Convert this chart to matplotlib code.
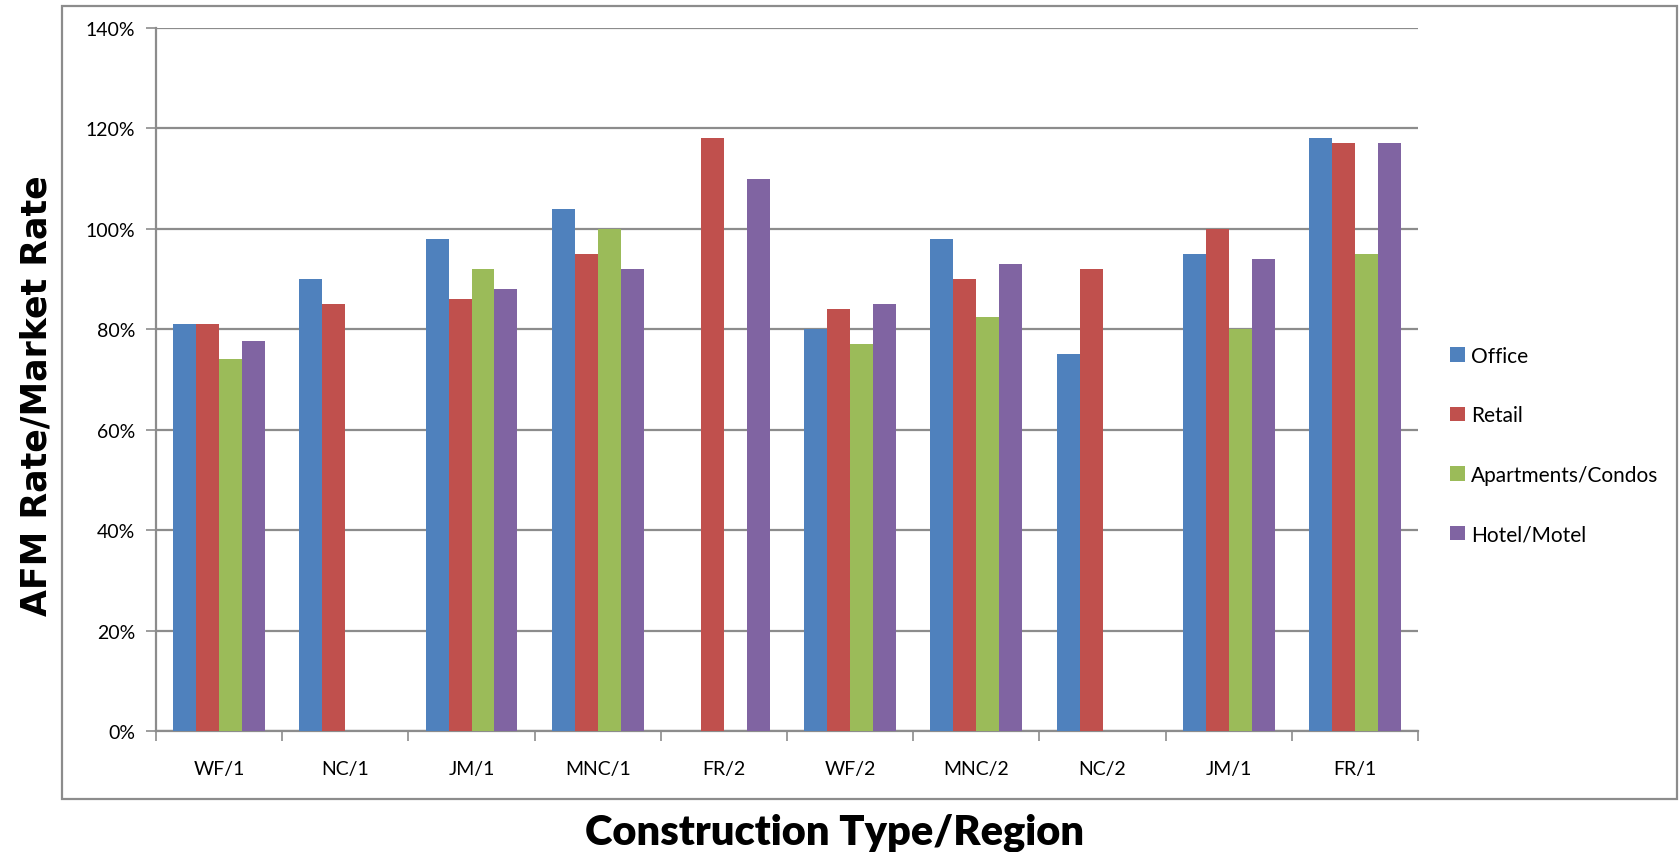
import numpy as np
import matplotlib
matplotlib.use("Agg")
import matplotlib.pyplot as plt
from matplotlib.patches import Rectangle
from matplotlib.ticker import PercentFormatter

nan = np.nan

# categories and series values (percent)
regions = ["WF/1", "NC/1", "JM/1", "MNC/1", "FR/2", "WF/2", "MNC/2", "NC/2", "JM/1", "FR/1"]
office = [81, 90, 98, 104, nan, 80, 98, 75, 95, 118]
retail = [81, 85, 86, 95, 118, 84, 90, 92, 100, 117]
apartments = [74, nan, 92, 100, nan, 77, 82.5, nan, 80, 95]
hotel = [77.6, nan, 88, 92, 110, 85, 93, nan, 94, 117]

series_names = ["Office", "Retail", "Apartments/Condos", "Hotel/Motel"]
colors = ["#4F81BD", "#C0504D", "#9BBB59", "#8064A2"]
y_ticks = [0, 20, 40, 60, 80, 100, 120, 140]

fig = plt.figure(figsize=(16.79, 8.53), dpi=100)
ax = fig.add_axes([156 / 1679, 1 - 732 / 853, (1418 - 156) / 1679, (732 - 29) / 853])

x = np.arange(len(regions))
w = 1 / 5.5
all_series = [office, retail, apartments, hotel]
for i, (vals, name, c) in enumerate(zip(all_series, series_names, colors)):
    ax.bar(x + (i - 1.5) * w, np.array(vals, dtype=float), width=w, color=c, label=name, zorder=3)

ax.set_xlim(-0.5, len(regions) - 0.5)
ax.set_ylim(0, 140)
ax.set_yticks(y_ticks)
ax.yaxis.set_major_formatter(PercentFormatter(decimals=0))
ax.grid(axis="y", color="#8c8c8c", linewidth=1.6, zorder=0)

ax.set_xticks(np.arange(-0.5, len(regions)), labels=[""] * (len(regions) + 1))
ax.set_xticks(x, labels=regions, minor=True)
ax.tick_params(axis="x", which="major", length=7, width=1.2, color="#8c8c8c", direction="out")
ax.tick_params(axis="x", which="minor", length=0, pad=21, labelsize=14)
ax.tick_params(axis="y", length=7, width=1.2, color="#8c8c8c", pad=8, labelsize=14)

for side in ["top", "right"]:
    ax.spines[side].set_visible(False)
for side in ["left", "bottom"]:
    ax.spines[side].set_color("#8c8c8c")
    ax.spines[side].set_linewidth(1.6)

for lab in ax.get_xticklabels(minor=True) + ax.get_yticklabels():
    lab.set_fontfamily("Lato")

# outer chart border
fig.patches.append(Rectangle((62 / 1679, 1 - 800 / 853), (1677 - 62) / 1679, (800 - 7) / 853,
                             transform=fig.transFigure, fill=False, edgecolor="#8c8c8c", linewidth=1.6))

leg = ax.legend(loc="center left", bbox_to_anchor=(1440 / 1679, 1 - 446 / 853),
                bbox_transform=fig.transFigure, frameon=False, borderpad=0,
                handlelength=0.7, handleheight=0.7, handletextpad=0.3, labelspacing=1.9,
                prop={"family": "Lato", "size": 15})

fig.text(37 / 1679, 1 - 396 / 853, "AFM Rate/Market Rate", rotation=90, ha="center", va="center",
         fontsize=25, fontweight="heavy", family="DejaVu Sans")
fig.text(835 / 1679, 1 - 833 / 853, "Construction Type/Region", ha="center", va="center",
         fontsize=30, fontweight="heavy", family="Lato")

fig.savefig("out.png", dpi=100)
